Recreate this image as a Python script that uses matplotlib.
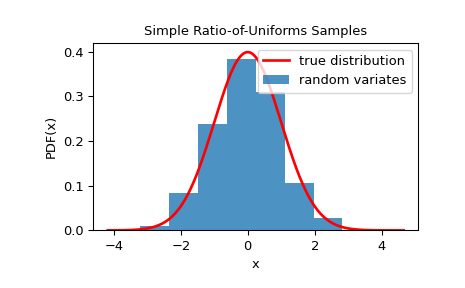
import numpy as np
import matplotlib
matplotlib.use("Agg")
import matplotlib.pyplot as plt

# histogram (density, 10 bins)
bin_edges = [-4.08, -3.22, -2.35, -1.49, -0.63, 0.24, 1.10, 1.97, 2.83, 3.70, 4.56]
densities = [0.0005, 0.0098, 0.0833, 0.2386, 0.3826, 0.309, 0.1058, 0.0278, 0.002, 0.0005]

rv_min, rv_max = -4.08, 4.56

x = np.linspace(rv_min - 0.1, rv_max + 0.1, num=500)
pdf = np.exp(-x**2 / 2) / np.sqrt(2 * np.pi)

centers = [(a + b) / 2 for a, b in zip(bin_edges[:-1], bin_edges[1:])]

font_size = 13 * 72 / 96.0  # 13 px
plt.rcParams.update({
    'font.size': font_size,
    'axes.titlesize': font_size,
    'axes.labelsize': font_size,
    'xtick.labelsize': font_size,
    'ytick.labelsize': font_size,
    'legend.fontsize': font_size,
})

dpi = 96
fig, ax = plt.subplots(figsize=(465/dpi, 288/dpi), dpi=dpi)
fig.subplots_adjust(left=0.2, right=0.9, bottom=0.2, top=0.85)
ax.plot(x, pdf, 'r-', lw=2, label='true distribution')
ax.hist(centers, bins=bin_edges, weights=densities, alpha=0.8, label='random variates')
ax.set_xlabel('x')
ax.set_ylabel('PDF(x)')
ax.set_title('Simple Ratio-of-Uniforms Samples')
ax.legend(loc='upper right')
fig.savefig('out.png', dpi=dpi)
